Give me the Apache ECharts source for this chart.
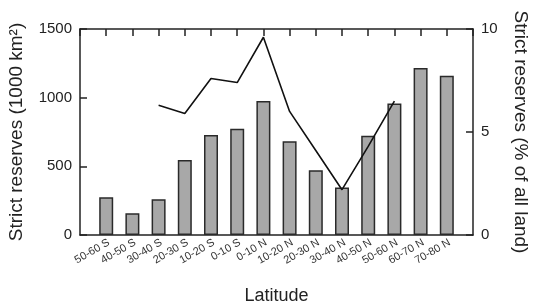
<!DOCTYPE html>
<html>
<head>
<meta charset="utf-8">
<script src="https://cdn.jsdelivr.net/npm/echarts@6/dist/echarts.min.js"></script>
<style>
  html, body { margin: 0; padding: 0; background: #fff; }
  #chart { width: 546px; height: 305px; }
</style>
</head>
<body>
<div id="chart"></div>
<script>
// latitude bands, south to north
var latitudes = ['50-60 S', '40-50 S', '30-40 S', '20-30 S', '10-20 S', '0-10 S',
    '0-10 N', '10-20 N', '20-30 N', '30-40 N', '40-50 N', '50-60 N', '60-70 N', '70-80 N'];
// strict reserves area (1000 km2)
var reserveArea = [275, 158, 260, 547, 729, 773, 975, 683, 472, 345, 722, 958, 1216, 1160];
// strict reserves share (% of all land), null where not drawn
var reservePct = [null, null, 6.3, 5.9, 7.6, 7.4, 9.6, 6.0, 4.1, 2.2, 4.3, 6.5, null, null];
var leftTicks = [0, 500, 1000, 1500];
var rightTicks = [0, 5, 10];

// pad both ends with a blank slot so the bands sit off the frame
var cats = [''].concat(latitudes, ['']);
var barData = [null].concat(reserveArea, [null]);
var lineData = [null].concat(reservePct, [null]);

var textColor = '#222';
var font = 'Liberation Sans, Arial, sans-serif';
var frame = { color: '#222', width: 1.5 };

var chart = echarts.init(document.getElementById('chart'));
chart.setOption({
    animation: false,
    backgroundColor: '#fff',
    grid: { left: 80, right: 73, top: 29, bottom: 70, containLabel: false, outerBoundsMode: 'none' },
    xAxis: [{
        type: 'category',
        data: cats,
        boundaryGap: false,
        name: 'Latitude',
        nameLocation: 'middle',
        nameGap: 52,
        nameTextStyle: { color: textColor, fontSize: 18, fontFamily: font },
        axisLine: { onZero: false, lineStyle: frame },
        axisTick: { show: false },
        axisLabel: {
            interval: 0, rotate: 30, margin: 2,
            verticalAlign: 'top',
            color: '#333', fontSize: 11, fontFamily: font
        },
        splitLine: { show: false }
    }, {
        type: 'category',
        data: cats,
        boundaryGap: false,
        position: 'top',
        axisLine: { onZero: false, lineStyle: frame },
        axisTick: { inside: true, length: 7, interval: 0, lineStyle: frame },
        axisLabel: { show: false },
        splitLine: { show: false }
    }],
    yAxis: [{
        type: 'value',
        min: leftTicks[0],
        max: leftTicks[leftTicks.length - 1],
        interval: 500,
        name: 'Strict reserves (1000 km²)',
        nameLocation: 'middle',
        nameGap: 54,
        nameTextStyle: { color: textColor, fontSize: 19, fontFamily: font },
        axisLine: { show: true, onZero: false, lineStyle: frame },
        axisTick: { show: true, inside: true, length: 7, lineStyle: frame },
        axisLabel: {
            color: textColor, fontSize: 15, fontFamily: font, margin: 8,
            formatter: function (v) { return String(v); }
        },
        splitLine: { show: false }
    }, {
        type: 'value',
        min: rightTicks[0],
        max: rightTicks[rightTicks.length - 1],
        interval: 5,
        position: 'right',
        name: 'Strict reserves (% of all land)',
        nameLocation: 'middle',
        nameGap: 38,
        nameRotate: -90,
        nameTextStyle: { color: textColor, fontSize: 19, fontFamily: font },
        axisLine: { show: true, onZero: false, lineStyle: frame },
        axisTick: { show: true, inside: true, length: 7, lineStyle: frame },
        axisLabel: { color: textColor, fontSize: 15, fontFamily: font, margin: 8 },
        splitLine: { show: false }
    }],
    series: [{
        type: 'bar',
        data: barData,
        barWidth: 14,
        itemStyle: { color: '#a8a8a8', borderColor: '#2a2a2a', borderWidth: 1.5 }
    }, {
        type: 'line',
        yAxisIndex: 1,
        data: lineData,
        symbol: 'none',
        connectNulls: false,
        lineStyle: { color: '#111', width: 1.6 },
        z: 5
    }]
});
</script>
</body>
</html>
